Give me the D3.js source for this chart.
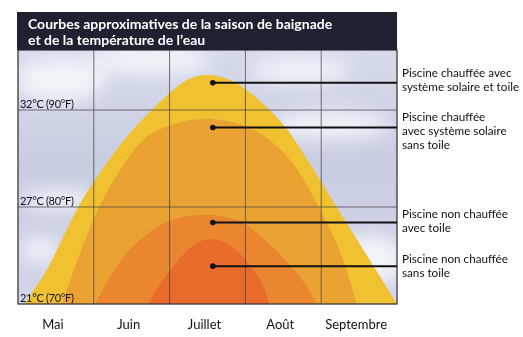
<!DOCTYPE html>
<html>
<head>
<meta charset="utf-8">
<script src="https://cdn.jsdelivr.net/npm/d3@7"></script>
<style>
  body { margin: 0; background: #fff; }
  svg { display: block; }
</style>
</head>
<body>
<svg id="chart" width="523" height="337"></svg>
<script>
// courbes : [mois depuis début mai, °F]
var chauffeeToile = [[0.09,70],[0.18,71.1],[0.40,73.8],[0.62,77.3],[0.78,79.8],[0.95,82.0],[1.13,84.1],[1.45,87.4],[1.74,89.8],[2.01,91.8],[2.23,93.1],[2.49,93.6],[2.80,93.1],[3.06,91.8],[3.32,90.0],[3.55,88.0],[3.88,84.1],[4.22,79.8],[4.42,77.3],[4.70,73.8],[5.0,70]];
var chauffeeSansToile = [[0.58,70],[0.75,73.8],[1.06,79.8],[1.37,84.1],[1.65,86.9],[2.01,88.4],[2.49,89.1],[2.97,88.4],[3.32,86.9],[3.69,83.8],[3.98,79.8],[4.25,75.4],[4.47,70]];
var nonChauffeeToile = [[1.02,70],[1.19,72.5],[1.45,75.4],[1.74,77.4],[2.07,78.8],[2.49,79.2],[2.90,78.6],[3.26,76.6],[3.59,74.0],[3.83,71.6],[3.94,70]];
var nonChauffeeSansToile = [[1.72,70],[1.85,71.8],[2.03,73.7],[2.27,75.8],[2.53,76.7],[2.82,75.9],[3.06,74.0],[3.22,72.1],[3.32,70]];

var mois = ["Mai", "Juin", "Juillet", "Août", "Septembre"];
var tempTicks = [70, 80, 90];
var tempLabels = ["21°C (70°F)", "27°C (80°F)", "32°C (90°F)"];
var titre = ["Courbes approximatives de la saison de baignade", "et de la température de l’eau"];

// légendes à droite : temp de la ligne de rappel, lignes de texte
var legendTemp = [92.8, 88.2, 78.4, 73.9];
var legendText = [
  ["Piscine chauffée avec", "système solaire et toile"],
  ["Piscine chauffée", "avec système solaire", "sans toile"],
  ["Piscine non chauffée", "avec toile"],
  ["Piscine non chauffée", "sans toile"]
];
var legendTextY = [[77, 91], [121, 135, 149], [218, 232], [263, 277]];

var series = [chauffeeToile, chauffeeSansToile, nonChauffeeToile, nonChauffeeSansToile];
var colors = ["#f0c130", "#eaa333", "#e9862f", "#e96b2b"];

var svg = d3.select("#chart");
var pLeft = 18, pRight = 397, pTop = 50, pBottom = 304;

var x = d3.scaleLinear().domain([0, 5]).range([pLeft, pRight]);
var y = d3.scaleLinear().domain([70, 90]).range([pBottom, 110]);

var defs = svg.append("defs");
var sky = defs.append("linearGradient").attr("id", "sky")
  .attr("x1", 0).attr("y1", 0).attr("x2", 0).attr("y2", 1);
sky.append("stop").attr("offset", "0%").attr("stop-color", "#d6dbea");
sky.append("stop").attr("offset", "45%").attr("stop-color", "#c9cde2");
sky.append("stop").attr("offset", "100%").attr("stop-color", "#d2d6e8");
defs.append("filter").attr("id", "blur")
  .attr("x", "-50%").attr("y", "-50%").attr("width", "200%").attr("height", "200%")
  .append("feGaussianBlur").attr("stdDeviation", 9);
defs.append("clipPath").attr("id", "plot")
  .append("rect").attr("x", pLeft).attr("y", pTop)
  .attr("width", pRight - pLeft).attr("height", pBottom - pTop);

var plot = svg.append("g").attr("clip-path", "url(#plot)");
plot.append("rect").attr("x", pLeft).attr("y", pTop)
  .attr("width", pRight - pLeft).attr("height", pBottom - pTop)
  .attr("fill", "url(#sky)");

// nuages
var clouds = [[60, 80, 45, 22], [150, 60, 60, 14], [330, 125, 60, 14], [60, 200, 40, 10], [370, 260, 35, 25], [300, 70, 50, 12], [230, 140, 40, 12], [40, 250, 20, 12]];
plot.append("g").attr("filter", "url(#blur)")
  .selectAll("ellipse").data(clouds).enter().append("ellipse")
  .attr("cx", d => d[0]).attr("cy", d => d[1])
  .attr("rx", d => d[2]).attr("ry", d => d[3])
  .attr("fill", "#f4f7fb").attr("opacity", 0.9);

var area = d3.area()
  .x(d => x(d[0]))
  .y0(y(70))
  .y1(d => y(d[1]))
  .curve(d3.curveMonotoneX);

plot.selectAll("path.courbe").data(series).enter().append("path")
  .attr("class", "courbe")
  .attr("d", area)
  .attr("fill", (d, i) => colors[i]);

// grille
plot.selectAll("line.v").data([1, 2, 3, 4]).enter().append("line")
  .attr("x1", d => x(d)).attr("x2", d => x(d))
  .attr("y1", pTop).attr("y2", pBottom)
  .attr("stroke", "#4a4440").attr("stroke-opacity", 0.75).attr("stroke-width", 1);
plot.selectAll("line.h").data([80, 90]).enter().append("line")
  .attr("x1", pLeft).attr("x2", pRight)
  .attr("y1", d => y(d)).attr("y2", d => y(d))
  .attr("stroke", "#4a4440").attr("stroke-opacity", 0.75).attr("stroke-width", 1);

svg.append("rect").attr("x", pLeft).attr("y", pTop)
  .attr("width", pRight - pLeft).attr("height", pBottom - pTop)
  .attr("fill", "none").attr("stroke", "#3a3a40").attr("stroke-width", 1.3);

// étiquettes de température
svg.selectAll("text.temp").data(tempTicks).enter().append("text")
  .attr("x", pLeft + 2).attr("y", d => y(d) - 2)
  .attr("font-family", "Lato, sans-serif").attr("font-size", 11)
  .attr("letter-spacing", -0.3)
  .attr("fill", "#111")
  .text((d, i) => tempLabels[i]);

// mois
svg.selectAll("text.mois").data(mois).enter().append("text")
  .attr("x", (d, i) => x(i + 0.5) - 3).attr("y", 329)
  .attr("text-anchor", "middle")
  .attr("font-family", "Lato, sans-serif").attr("font-size", 13)
  .attr("fill", "#111")
  .text(d => d);

// en-tête
svg.append("rect").attr("x", 17).attr("y", 12).attr("width", pRight - 17).attr("height", pTop - 12)
  .attr("fill", "#1d2130");
svg.selectAll("text.titre").data(titre).enter().append("text")
  .attr("x", 28).attr("y", (d, i) => 29 + i * 16)
  .attr("font-family", "Lato, sans-serif").attr("font-weight", 700).attr("font-size", 14)
  .attr("fill", "#fff")
  .text(d => d);

// lignes de rappel
var lead = svg.append("g");
lead.selectAll("line").data(legendTemp).enter().append("line")
  .attr("x1", x(2.57)).attr("x2", pRight)
  .attr("y1", d => y(d)).attr("y2", d => y(d))
  .attr("stroke", "#111").attr("stroke-width", 2);
lead.selectAll("circle").data(legendTemp).enter().append("circle")
  .attr("cx", x(2.57)).attr("cy", d => y(d)).attr("r", 2.8)
  .attr("fill", "#111");

var leg = svg.append("g");
legendText.forEach(function (lines, k) {
  leg.selectAll("text.l" + k).data(lines).enter().append("text")
    .attr("x", 402).attr("y", (d, i) => legendTextY[k][i])
    .attr("font-family", "Lato, sans-serif").attr("font-size", 11.7)
    .attr("fill", "#111")
    .text(d => d);
});
</script>
</body>
</html>
